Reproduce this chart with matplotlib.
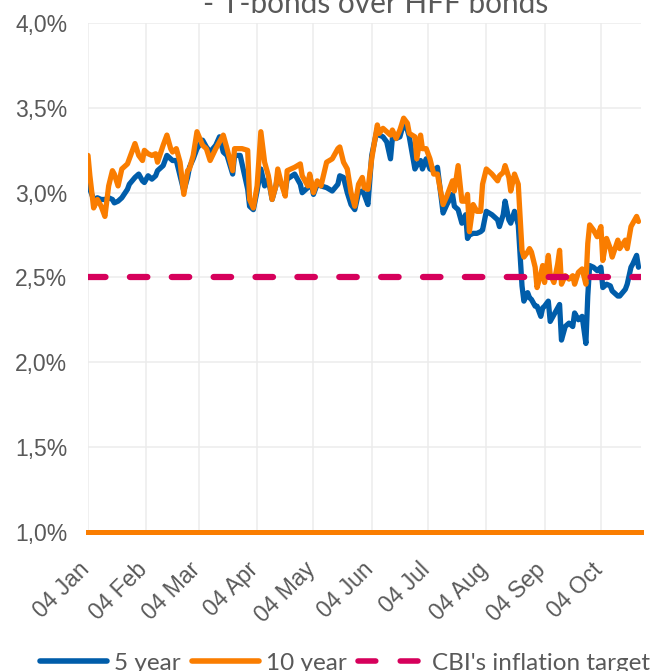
import matplotlib
matplotlib.use("Agg")
import matplotlib.pyplot as plt
from matplotlib.lines import Line2D
from matplotlib.transforms import ScaledTranslation
import pandas as pd

# ---------------- data ----------------
dates = [
    "2021-01-04","2021-01-05","2021-01-07","2021-01-09","2021-01-11","2021-01-13","2021-01-15","2021-01-17","2021-01-18","2021-01-20","2021-01-22","2021-01-25","2021-01-26","2021-01-29","2021-01-31",
    "2021-02-02","2021-02-03","2021-02-05","2021-02-07","2021-02-09","2021-02-10","2021-02-13","2021-02-15","2021-02-17","2021-02-18","2021-02-20","2021-02-22","2021-02-24","2021-02-26","2021-02-27",
    "2021-03-01","2021-03-03","2021-03-06","2021-03-08","2021-03-10","2021-03-13","2021-03-15","2021-03-17","2021-03-19","2021-03-22","2021-03-23","2021-03-26","2021-03-27","2021-03-30","2021-03-31",
    "2021-04-02","2021-04-04","2021-04-06","2021-04-08","2021-04-10","2021-04-12","2021-04-14","2021-04-15","2021-04-17","2021-04-19","2021-04-20","2021-04-24","2021-04-27","2021-04-28",
    "2021-05-01","2021-05-02","2021-05-04","2021-05-06","2021-05-08","2021-05-11","2021-05-14","2021-05-17","2021-05-18","2021-05-20","2021-05-22","2021-05-24","2021-05-26","2021-05-28","2021-05-30","2021-05-31",
    "2021-06-02","2021-06-04","2021-06-07","2021-06-08","2021-06-10","2021-06-12","2021-06-14","2021-06-15","2021-06-17","2021-06-19","2021-06-21","2021-06-23","2021-06-24","2021-06-27","2021-06-28","2021-06-30",
    "2021-07-01","2021-07-03","2021-07-05","2021-07-07","2021-07-09","2021-07-10","2021-07-12","2021-07-14","2021-07-17","2021-07-18","2021-07-20","2021-07-22","2021-07-24","2021-07-25","2021-07-26","2021-07-28","2021-07-30",
    "2021-08-01","2021-08-02","2021-08-04","2021-08-07","2021-08-10","2021-08-11","2021-08-13","2021-08-14","2021-08-16","2021-08-17","2021-08-19","2021-08-21","2021-08-23","2021-08-24","2021-08-26","2021-08-27","2021-08-28","2021-08-30","2021-08-31",
    "2021-09-02","2021-09-03","2021-09-04","2021-09-06","2021-09-07","2021-09-09","2021-09-11","2021-09-12","2021-09-13","2021-09-15","2021-09-17","2021-09-19","2021-09-20","2021-09-22","2021-09-24","2021-09-26","2021-09-27","2021-09-28","2021-09-30",
    "2021-10-02","2021-10-04","2021-10-05","2021-10-07","2021-10-09","2021-10-10","2021-10-13","2021-10-14","2021-10-17","2021-10-18","2021-10-20","2021-10-21","2021-10-23","2021-10-24",
]

ten_year = [
    3.22,3.10,2.91,2.96,2.92,2.86,3.04,3.13,3.11,3.04,3.14,3.17,3.20,3.29,3.22,
    3.19,3.25,3.23,3.22,3.23,3.18,3.28,3.34,3.26,3.24,3.26,3.18,2.99,3.13,3.14,
    3.22,3.36,3.28,3.26,3.19,3.26,3.30,3.34,3.26,3.13,3.26,3.26,3.26,3.25,2.96,
    2.91,3.04,3.36,3.18,3.10,2.96,3.04,3.14,3.05,2.98,3.13,3.15,3.17,3.10,
    3.04,3.11,3.00,3.07,3.04,3.18,3.20,3.26,3.27,3.18,3.14,3.00,2.92,3.05,3.09,3.03,
    3.02,3.20,3.40,3.35,3.38,3.36,3.34,3.37,3.32,3.37,3.44,3.41,3.35,3.33,3.20,3.34,
    3.26,3.26,3.20,3.11,3.11,3.05,2.93,2.98,3.07,3.01,3.16,2.95,2.95,2.99,2.77,2.93,2.89,
    2.89,3.05,3.14,3.11,3.07,3.10,3.12,3.16,3.09,3.01,3.11,3.05,2.66,2.62,2.65,2.67,2.65,2.56,2.44,
    2.52,2.57,2.47,2.63,2.52,2.47,2.58,2.66,2.46,2.51,2.49,2.51,2.46,2.53,2.55,2.46,2.70,2.81,2.78,
    2.74,2.80,2.60,2.73,2.67,2.62,2.72,2.67,2.72,2.67,2.80,2.82,2.86,2.83,
]

five_year = [
    3.08,3.02,2.96,2.97,2.96,2.96,2.97,2.96,2.94,2.95,2.97,3.02,3.05,3.09,3.11,
    3.07,3.06,3.10,3.08,3.10,3.13,3.16,3.22,3.20,3.19,3.19,3.10,3.01,3.09,3.15,
    3.20,3.26,3.31,3.27,3.24,3.28,3.33,3.24,3.22,3.11,3.22,3.22,3.17,3.02,2.92,
    2.90,3.01,3.14,3.04,3.08,2.96,3.04,3.10,3.05,3.01,3.08,3.11,3.05,3.00,
    3.03,3.10,2.99,3.05,3.04,3.03,3.01,3.05,3.10,3.09,3.00,2.93,2.90,3.00,3.01,2.99,
    2.93,3.22,3.38,3.34,3.33,3.30,3.20,3.32,3.32,3.33,3.41,3.37,3.33,3.14,3.16,3.19,
    3.14,3.20,3.14,3.13,3.15,3.06,2.88,2.93,2.99,2.92,2.90,2.82,2.87,2.73,2.75,2.76,2.76,
    2.77,2.78,2.89,2.87,2.84,2.80,2.87,2.95,2.84,2.82,2.89,2.81,2.45,2.36,2.41,2.38,2.37,2.33,2.33,
    2.27,2.32,2.33,2.36,2.24,2.28,2.32,2.34,2.13,2.21,2.23,2.21,2.29,2.25,2.27,2.11,2.39,2.57,2.56,
    2.54,2.56,2.44,2.46,2.45,2.42,2.39,2.39,2.43,2.46,2.56,2.58,2.63,2.56,
]

inflation_target = 2.5

series_names = ["5 year", "10 year", "CBI's inflation target"]
title_text = "- T-bonds over HFF bonds"

y_ticks = [1.0, 1.5, 2.0, 2.5, 3.0, 3.5, 4.0]
y_tick_labels = ["1,0%", "1,5%", "2,0%", "2,5%", "3,0%", "3,5%", "4,0%"]

x_ticks = ["2021-01-04","2021-02-04","2021-03-04","2021-04-04","2021-05-04",
           "2021-06-04","2021-07-04","2021-08-04","2021-09-04","2021-10-04"]
x_tick_labels = ["04 Jan","04 Feb","04 Mar","04 Apr","04 May",
                 "04 Jun","04 Jul","04 Aug","04 Sep","04 Oct"]

x_range = ["2021-01-04", "2021-10-25 08:00"]

# ---------------- style ----------------
BLUE = "#005DAA"
ORANGE = "#FA7D00"
PINK = "#D6005B"
GRID = "#ECECEC"
TEXT = "#595959"

assert len(dates) == len(ten_year) == len(five_year)
d = pd.to_datetime(dates)

fig = plt.figure(figsize=(6.6, 6.71), dpi=100)
ax = fig.add_axes([88/660, 1 - 531.5/671, (641-88)/660, (531.5-23.3)/671])

ax.plot(d, five_year, color=BLUE, lw=3.8, solid_capstyle="round",
        solid_joinstyle="round", zorder=3)
ax.plot(d, ten_year, color=ORANGE, lw=3.8, solid_capstyle="round",
        solid_joinstyle="round", zorder=4)
ax.axhline(inflation_target, color=PINK, lw=4.5, dashes=(2.8, 3.9),
           dash_capstyle="round", zorder=5)

ax.set_ylim(y_ticks[0], y_ticks[-1])
ax.set_xlim(pd.to_datetime(x_range[0]), pd.to_datetime(x_range[1]))

ax.set_yticks(y_ticks)
ax.set_yticklabels(y_tick_labels, fontsize=16.5, color=TEXT,
                   family="Liberation Sans")
ax.set_xticks(pd.to_datetime(x_ticks))
ax.set_xticklabels(x_tick_labels, fontsize=16.5, color=TEXT,
                   family="Liberation Sans", rotation=45, ha="right",
                   va="center", rotation_mode="anchor")
ax.tick_params(axis="y", length=0, pad=15)
ax.tick_params(axis="x", length=0, pad=25)
off = ScaledTranslation(-2/100, 0, fig.dpi_scale_trans)
for lab in ax.get_xticklabels():
    lab.set_transform(lab.get_transform() + off)

ax.grid(True, color=GRID, lw=1.1, zorder=0)
ax.set_axisbelow(True)
for s in ["top", "right", "left"]:
    ax.spines[s].set_visible(False)
ax.spines["bottom"].set_color(ORANGE)
ax.spines["bottom"].set_linewidth(3.6)
ax.spines["bottom"].set_zorder(6)

fig.text(376/660, 1 - 13.3/671, title_text, ha="center", va="baseline",
         fontsize=21.4, color=TEXT, family="Lato")

handles = [
    Line2D([], [], color=BLUE, lw=4.0, solid_capstyle="round"),
    Line2D([], [], color=ORANGE, lw=4.0, solid_capstyle="round"),
    Line2D([], [], color=PINK, lw=4.0, dashes=(3.2, 4.4), dash_capstyle="round"),
]
fig.legend(handles, series_names, ncol=3, loc="center left",
           bbox_to_anchor=(40/660, 1 - 663/671), frameon=False,
           prop={"family": "Lato", "size": 17.5}, labelcolor=TEXT,
           handlelength=2.75, handletextpad=0.3, columnspacing=0.45,
           borderpad=0, borderaxespad=0)

fig.savefig("out.png", dpi=100)
